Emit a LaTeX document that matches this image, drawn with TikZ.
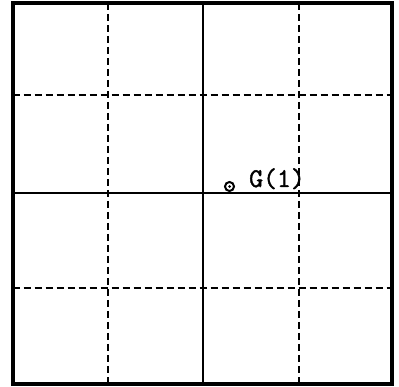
\documentclass[tikz,border=0pt]{standalone}
\usepackage{fontspec}
\newfontfamily\labfont{Latin Modern Mono}[FakeBold=1.5]
\usepackage{tikz}
\usetikzlibrary{positioning}

\tikzset{
  frameline/.style={line width=4pt},
  gridline/.style={line width=2pt},
  dashline/.style={line width=2pt,dash pattern=on 7pt off 4pt}
}

\begin{document}
\begin{tikzpicture}[x=1pt,y=-1pt]
\useasboundingbox (0,0) rectangle (399,387);
% outer frame
\draw[frameline] (12.5,3) rectangle (392,384);
% solid cross
\draw[gridline] (203,3) -- (203,384);
\draw[gridline] (12.5,193) -- (392,193);
% dashed quarter lines
\foreach \x in {108,299}{\draw[dashline] (\x,3) -- (\x,384);}
\foreach \y in {95,288}{\draw[dashline] (12.5,\y) -- (392,\y);}
% marker and label
\node[circle,draw,line width=2pt,inner sep=0pt,minimum size=9pt] (gpt) at (229.5,186.5) {};
\fill (gpt.center) circle (1.5pt);
\node[anchor=base west,inner sep=0pt,font=\labfont\fontsize{27}{30}\selectfont] (glab) at (249,187) {G(1)};
\end{tikzpicture}
\end{document}
